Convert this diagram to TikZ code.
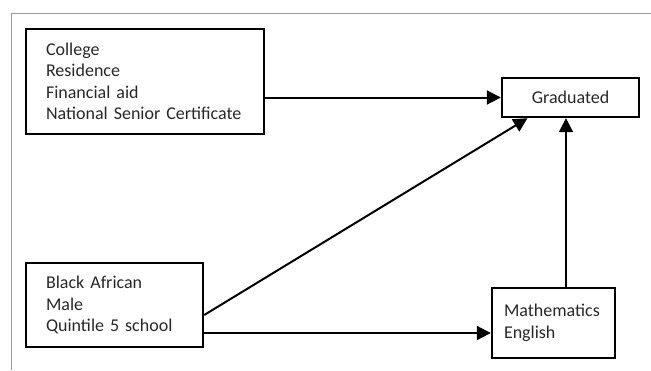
\documentclass[tikz,border=0pt]{standalone}
\usepackage{fontspec}
\setmainfont{Carlito}
\usetikzlibrary{arrows.meta}
\definecolor{gtext}{RGB}{40,40,40}
\tikzset{
  gbox/.style   = {draw, line width=2.4pt, inner ysep=0pt, font=\fontsize{18}{21.5}\selectfont, text=gtext},
  glist/.style  = {gbox, align=left, inner xsep=20pt},   % boxes with a list of variables
  garr/.style   = {line width=2pt, -{Triangle[length=14pt, width=14pt]}},
  gframe/.style = {draw=gray!80, line width=1pt},
}
\begin{document}
\begin{tikzpicture}[x=1pt, y=-1pt]
  \useasboundingbox (0,0) rectangle (651,370);
  \draw[gframe] (651,13) -- (11,13) -- (11,370);
  % boxes
  \node[glist, minimum width=238pt, minimum height=105pt, text width=198pt] (inst) at (145,81.5)
    {College\\Residence\\Financial aid\\National Senior Certificate};
  \node[glist, minimum width=177pt, minimum height=84pt, text width=137pt] (demo) at (114.5,305)
    {Black African\\Male\\Quintile 5 school};
  \node[gbox, minimum width=137pt, minimum height=39pt] (grad) at (570.5,97.5) {Graduated};
  \node[glist, inner xsep=12pt, minimum width=123pt, minimum height=70pt, text width=99pt] (subj) at (553.5,323)
    {Mathematics\\English};
  % paths
  \coordinate (gradin) at ([xshift=-43pt]grad.south);
  \coordinate (subjin) at ([yshift=-10pt]subj.west);
  \coordinate (subjout) at ([xshift=12.5pt]subj.north);
  \draw[garr] (inst.east |- grad.west) -- (grad.west);
  \draw[garr] ([yshift=-10pt]demo.east) -- (gradin);
  \draw[garr] (demo.east |- subjin) -- (subjin);
  \draw[garr] (subjout) -- (subjout |- grad.south);
\end{tikzpicture}
\end{document}
